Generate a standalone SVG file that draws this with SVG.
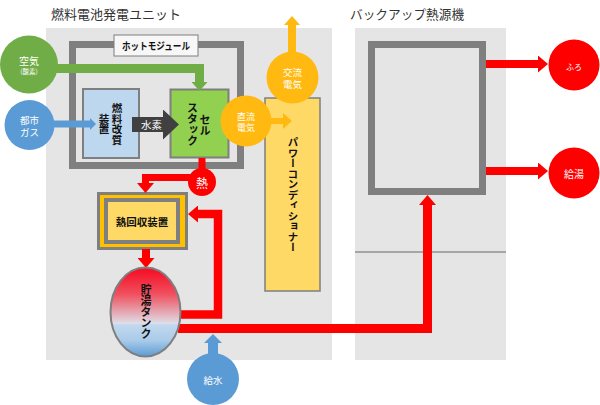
<svg xmlns="http://www.w3.org/2000/svg" width="600" height="405" viewBox="0 0 600 405">
<style>
text{font-family:"Noto Sans CJK JP","Liberation Sans",sans-serif;text-anchor:middle;dominant-baseline:central}
.w{fill:#fff}
.k{fill:#111;font-weight:700}
.v{writing-mode:vertical-rl}
.title{fill:#333;font-size:13px;text-anchor:start;dominant-baseline:auto}
.bg{fill:#e6e5e6}
.frame{fill:none;stroke:#7f7f7f;stroke-width:7}
.box{stroke:#7f7f7f;stroke-width:2}
.c{fill:none}
.red{stroke:#f00}.grn{stroke:#70ad47}.blu{stroke:#5b9bd5}.org{stroke:#ffb911}.drk{stroke:#404040}
</style>
<defs>
<marker id="mr" markerUnits="userSpaceOnUse" markerWidth="10" markerHeight="17" refX="0" refY="8.5" orient="auto"><path d="M0 0L10 8.5L0 17z" fill="#f00"/></marker>
<marker id="mg" markerUnits="userSpaceOnUse" markerWidth="9" markerHeight="16" refX="0" refY="8" orient="auto"><path d="M0 0L9 8L0 16z" fill="#70ad47"/></marker>
<marker id="mb" markerUnits="userSpaceOnUse" markerWidth="9" markerHeight="18" refX="0" refY="9" orient="auto"><path d="M0 0L9 9L0 18z" fill="#5b9bd5"/></marker>
<marker id="ms" markerUnits="userSpaceOnUse" markerWidth="6" markerHeight="12" refX="0" refY="6" orient="auto"><path d="M0 0L6 6L0 12z" fill="#5b9bd5"/></marker>
<marker id="mo" markerUnits="userSpaceOnUse" markerWidth="9" markerHeight="16" refX="0" refY="8" orient="auto"><path d="M0 0L9 8L0 16z" fill="#ffb911"/></marker>
<marker id="md" markerUnits="userSpaceOnUse" markerWidth="16" markerHeight="30" refX="0" refY="15" orient="auto"><path d="M0 0L16 15L0 30z" fill="#404040"/></marker>
<linearGradient id="tank" x1="0" y1="0" x2="0" y2="1">
<stop offset="0.05" stop-color="#f5142a"/>
<stop offset="0.3" stop-color="#f0505f"/>
<stop offset="0.63" stop-color="#dedfe8"/>
<stop offset="0.64" stop-color="#c3d9ee"/>
<stop offset="0.82" stop-color="#a9cbe9"/>
<stop offset="1" stop-color="#5b9bd5"/>
</linearGradient>
</defs>

<g id="unit-fuelcell">
<rect class="bg" x="46" y="28" width="286" height="332"/>
<text class="title" x="51" y="19">燃料電池発電ユニット</text>
</g>
<g id="unit-backup">
<rect class="bg" x="355" y="28" width="151" height="332"/>
<line x1="355" y1="252" x2="506" y2="252" stroke="#a6a6a6" stroke-width="2"/>
<text class="title" x="350" y="19" style="font-size:12.7px">バックアップ熱源機</text>
</g>
<g id="hot-module">
<rect class="frame" x="72.500" y="44.500" width="168" height="121"/>
<rect x="114" y="35" width="84" height="21" fill="#f7f7f7" stroke="#7f7f7f"/>
<text class="k" x="156" y="45.500" font-size="10" textLength="68" lengthAdjust="spacingAndGlyphs">ホットモジュール</text>
</g>
<g id="backup-unit">
<rect class="frame" x="371.500" y="44.500" width="111" height="147"/>
</g>
<g id="reformer">
<rect class="box" x="83" y="89" width="56" height="69" fill="#bdd7ee"/>
<text class="k v" x="117" y="124" font-size="10.500">燃料改質</text>
<text class="k v" x="104" y="124" font-size="10.500">装置</text>
</g>
<g id="cell-stack">
<rect class="box" x="170.500" y="89.500" width="58" height="68" fill="#92d050"/>
<text class="k v" x="205" y="125" font-size="11">セル</text>
<text class="k v" x="192.500" y="124" font-size="11">スタック</text>
</g>
<g id="power-conditioner">
<rect x="265" y="98" width="55" height="193" fill="#ffd966" stroke="#7f7f7f" stroke-width="1.500"/>
<text class="k v" x="293" y="195" font-size="10.500">パワーコンディショナー</text>
</g>
<g id="heat-recovery">
<rect x="98.500" y="193.500" width="88" height="55" fill="#ffc000" stroke="#7f7f7f" stroke-width="3"/>
<rect x="106" y="200" width="72" height="42" fill="#ffd966" stroke="#7f7f7f" stroke-width="4"/>
<text class="k" x="142" y="221" font-size="10.500">熱回収装置</text>
</g>

<g id="connectors" class="c">
<path class="grn" d="M50 68.500H199.500V82" stroke-width="9" fill="none" marker-end="url(#mg)"/>
<path class="blu" d="M50 124H90" stroke-width="7" fill="none" marker-end="url(#ms)"/>
<path class="drk" d="M132 124.500H163" stroke-width="15" fill="none" marker-end="url(#md)"/>
<path class="org" d="M265 121H283" stroke-width="6" fill="none" marker-end="url(#mo)"/>
<path class="org" d="M292 55V25" stroke-width="8" fill="none" marker-end="url(#mo)"/>
<path class="red" d="M202 158V177.500H145.500V183" stroke-width="7" fill="none" marker-end="url(#mr)"/>
<path class="red" d="M146 249V258" stroke-width="8" fill="none" marker-end="url(#mr)"/>
<path class="red" d="M180 314.500H218V214H198" stroke-width="8.500" fill="none" marker-end="url(#mr)"/>
<path class="red" d="M178 328.500H427.500V205" stroke-width="9" fill="none" marker-end="url(#mr)"/>
<path class="blu" d="M213 355V343" stroke-width="10" fill="none" marker-end="url(#mb)"/>
<path class="red" d="M486 64H538" stroke-width="8" fill="none" marker-end="url(#mr)"/>
<path class="red" d="M486 171H538" stroke-width="8" fill="none" marker-end="url(#mr)"/>
</g>

<g id="hydrogen-label"><text class="w" x="151.500" y="124.500" font-size="10.500">水素</text></g>
<g id="air">
<circle cx="29" cy="64.500" r="29" fill="#70ad47"/>
<text class="w" font-size="10"><tspan x="29" y="60">空気</tspan><tspan x="29" y="71" font-size="6.500">(酸素)</tspan></text>
</g>
<g id="city-gas">
<circle cx="29.500" cy="125" r="25" fill="#5b9bd5"/>
<text class="w" font-size="9.500"><tspan x="29.500" y="120">都市</tspan><tspan x="29.500" y="131.500">ガス</tspan></text>
</g>
<g id="dc-power">
<circle cx="246" cy="121" r="25.500" fill="#ffb911"/>
<text class="w" font-size="9"><tspan x="246" y="115.500">直流</tspan><tspan x="246" y="126.500">電気</tspan></text>
</g>
<g id="ac-power">
<circle cx="292.500" cy="77.500" r="26" fill="#ffb911"/>
<text class="w" font-size="9.500"><tspan x="292.500" y="72">交流</tspan><tspan x="292.500" y="83.500">電気</tspan></text>
</g>
<g id="heat">
<circle cx="202" cy="182" r="14" fill="#f00"/>
<text class="w" x="202" y="182" font-size="12">熱</text>
</g>
<g id="tank-node">
<ellipse cx="145.500" cy="312" rx="35" ry="44.500" fill="url(#tank)" stroke="#7f7f7f" stroke-width="2"/>
<text class="k v" x="146" y="312" font-size="11">貯湯タンク</text>
</g>
<g id="water-supply">
<circle cx="213" cy="379" r="26" fill="#5b9bd5"/>
<text class="w" x="213" y="380" font-size="9.500">給水</text>
</g>
<g id="bath">
<circle cx="574" cy="65" r="25.500" fill="#f00"/>
<text class="w" x="574" y="66" font-size="8">ふろ</text>
</g>
<g id="hot-water">
<circle cx="574" cy="173" r="25.500" fill="#f00"/>
<text class="w" x="574" y="173.500" font-size="10">給湯</text>
</g>
</svg>
